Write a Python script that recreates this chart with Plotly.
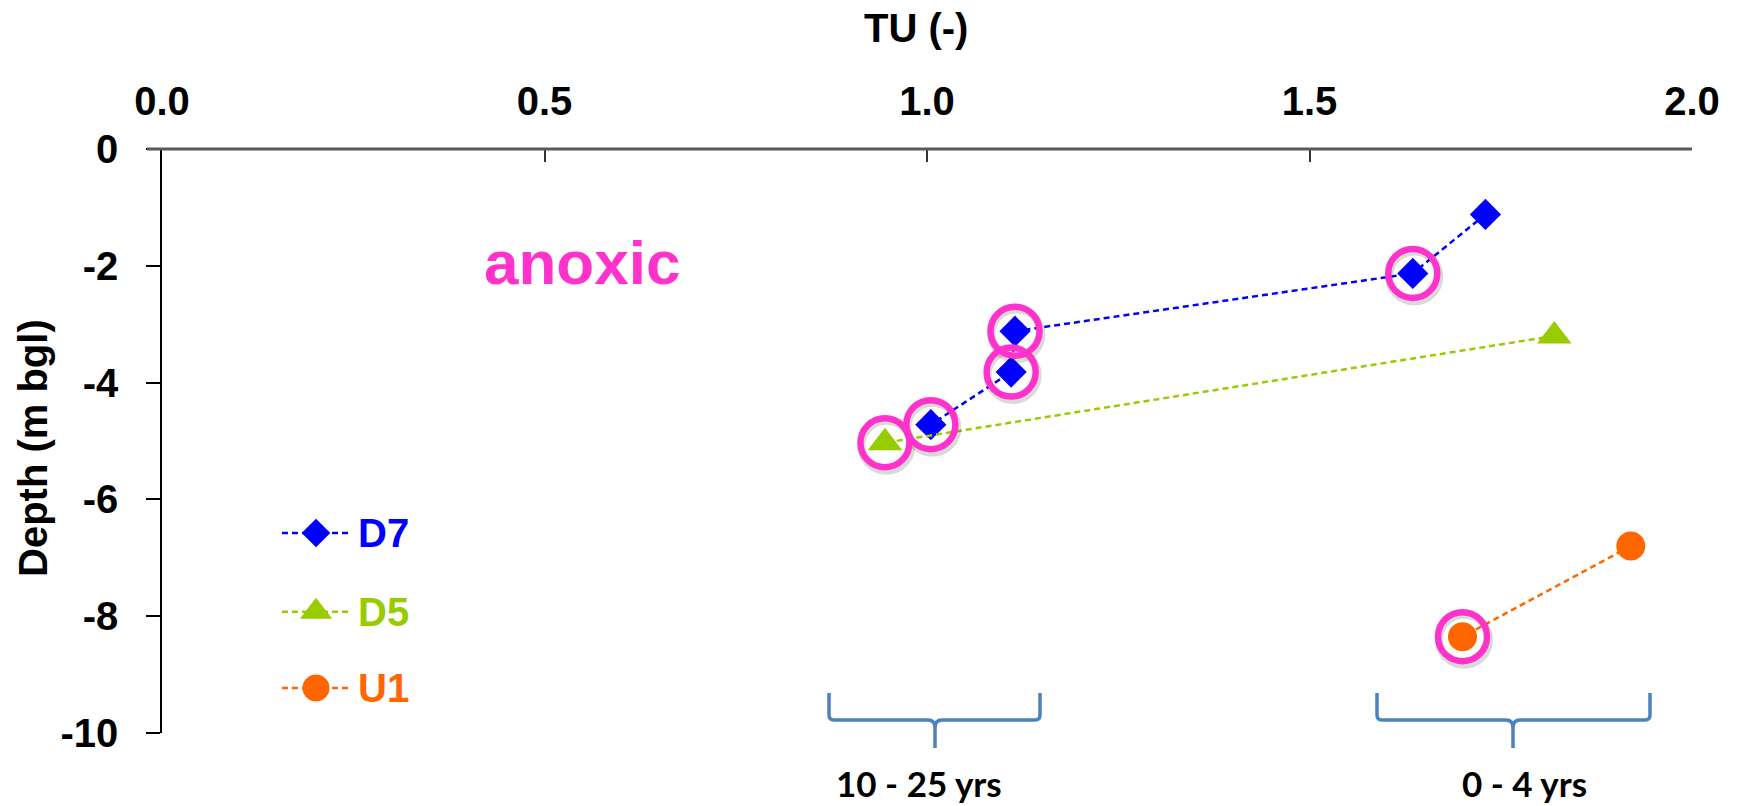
import plotly.graph_objects as go

# ---- data -------------------------------------------------------------
d7_tu = [1.73, 1.635, 1.115, 1.11, 1.005]
d7_depth = [-1.12, -2.13, -3.12, -3.82, -4.72]
d7_flag = [False, True, True, True, True]

d5_tu = [1.82, 0.945]
d5_depth = [-3.2, -5.03]
d5_flag = [False, True]

u1_tu = [1.92, 1.70]
u1_depth = [-6.8, -8.35]
u1_flag = [False, True]

series_names = ["D7", "D5", "U1"]
series_colors = ["#0000FF", "#99CC00", "#FF6600"]
series_symbols = ["diamond", "triangle-up", "circle"]
series_sizes = [24, 30, 29]

x_ticks = [0.0, 0.5, 1.0, 1.5, 2.0]
y_ticks = [0, -2, -4, -6, -8, -10]

age_labels = ["10 - 25 yrs", "0 - 4 yrs"]
note_text = "anoxic"

# ---- page geometry (pixels) -------------------------------------------
W, H = 1739, 806
L, R, T, B = 162, 1692, 149, 733
PINK = "#FF33CC"
BRACE = "#4F81BD"
FONT = "Liberation Sans, Arial, sans-serif"


def px(xp):
    return (xp - L) / (R - L)


def py(yp):
    return (B - yp) / (B - T)


fig = go.Figure()

series = [
    (d7_tu, d7_depth, d7_flag),
    (d5_tu, d5_depth, d5_flag),
    (u1_tu, u1_depth, u1_flag),
]

for (xs, ys, _), name, col, sym, sz in zip(
    series, series_names, series_colors, series_symbols, series_sizes
):
    fig.add_trace(
        go.Scatter(
            x=xs, y=ys, name=name, mode="lines+markers",
            line=dict(color=col, width=2.5, dash="6px,4px"),
            marker=dict(symbol=sym, size=sz, color=col, line=dict(width=0)),
            showlegend=False, cliponaxis=False,
        )
    )

# highlighted samples: soft shadow then pink ring
ring_x, ring_y = [], []
for xs, ys, flags in series:
    for xv, yv, f in zip(xs, ys, flags):
        if f:
            ring_x.append(xv)
            ring_y.append(yv)

dx = 1.5 * 2.0 / (R - L)
dy = -3 * 10.0 / (B - T)
shadow = "rgba(0,0,0,0.15)"
fig.add_trace(
    go.Scatter(
        x=[v + dx for v in ring_x], y=[v + dy for v in ring_y], mode="markers",
        marker=dict(symbol="circle-open", size=50, color=shadow,
                    line=dict(color=shadow, width=8)),
        showlegend=False, hoverinfo="skip", cliponaxis=False,
    )
)
fig.add_trace(
    go.Scatter(
        x=ring_x, y=ring_y, mode="markers",
        marker=dict(symbol="circle-open", size=49, color=PINK,
                    line=dict(color=PINK, width=6.5)),
        showlegend=False, cliponaxis=False,
    )
)

# ---- hand-drawn key on an overlay frame [0,1] x [0,1] ------------------
key_rows = [533, 611.7, 688]
for name, col, sym, sz, yr in zip(
    series_names, series_colors, series_symbols, series_sizes, key_rows
):
    fig.add_trace(
        go.Scatter(
            x=[px(282), px(350)], y=[py(yr), py(yr)], mode="lines",
            line=dict(color=col, width=2.5, dash="6px,4px"),
            xaxis="x2", yaxis="y2", showlegend=False, hoverinfo="skip",
        )
    )
    fig.add_trace(
        go.Scatter(
            x=[px(316)], y=[py(yr)], mode="markers",
            marker=dict(symbol=sym, size=sz - 2, color=col),
            xaxis="x2", yaxis="y2", showlegend=False, hoverinfo="skip",
        )
    )

annotations = []
for name, col, yr in zip(series_names, series_colors, key_rows):
    annotations.append(dict(
        text=name, x=px(356), y=py(yr), xref="paper", yref="paper",
        xanchor="left", yanchor="middle", showarrow=False,
        font=dict(family=FONT, size=40, color=col, weight="bold"),
    ))

# axis titles
annotations.append(dict(
    text="TU (-)", x=px(916), y=py(28), xref="paper", yref="paper",
    xanchor="center", yanchor="middle", showarrow=False,
    font=dict(family=FONT, size=40, color="black", weight="bold"),
))
annotations.append(dict(
    text="Depth (m bgl)", x=px(33), y=py(448), xref="paper", yref="paper",
    xanchor="center", yanchor="middle", showarrow=False, textangle=-90,
    font=dict(family=FONT, size=40, color="black", weight="bold"),
))

# note
annotations.append(dict(
    text=note_text, x=px(482), y=py(262), xref="paper", yref="paper",
    xanchor="left", yanchor="middle", showarrow=False,
    font=dict(family=FONT, size=62, color=PINK, weight="bold"),
))

# ---- age braces below the plot -----------------------------------------
shapes = []
braces = [(829, 935, 1040, 919), (1377, 1513, 1650, 1524)]
y_top, y_mid, y_tip = 693, 720, 748


def brace_path(xl, xc, xr):
    pts = [
        ("M", [(xl, y_top)]),
        ("L", [(xl, y_mid - 5)]),
        ("Q", [(xl, y_mid), (xl + 5, y_mid)]),
        ("L", [(xc - 7, y_mid)]),
        ("Q", [(xc, y_mid), (xc, y_mid + 8)]),
        ("L", [(xc, y_tip)]),
        ("M", [(xc, y_mid + 8)]),
        ("Q", [(xc, y_mid), (xc + 7, y_mid)]),
        ("L", [(xr - 5, y_mid)]),
        ("Q", [(xr, y_mid), (xr, y_mid - 5)]),
        ("L", [(xr, y_top)]),
    ]
    out = []
    for cmd, coords in pts:
        out.append(cmd + " " + " ".join(f"{px(a):.5f},{py(b):.5f}" for a, b in coords))
    return " ".join(out)


for (xl, xc, xr, tx), lab in zip(braces, age_labels):
    shapes.append(dict(
        type="path", path=brace_path(xl, xc, xr), xref="paper", yref="paper",
        line=dict(color=BRACE, width=3.5), layer="above",
    ))
    annotations.append(dict(
        text=lab, x=px(tx), y=py(H), xref="paper", yref="paper",
        xanchor="center", yanchor="bottom", showarrow=False,
        font=dict(family="Lato, sans-serif", size=35, color="black", weight="bold"),
    ))

# top axis line, running slightly past the depth axis
shapes.append(dict(
    type="line", xref="paper", yref="paper", x0=px(147), x1=1, y0=1, y1=1,
    line=dict(color="#595959", width=3), layer="above",
))

fig.update_layout(
    width=W, height=H,
    margin=dict(l=L, r=W - R, t=T, b=H - B, pad=0),
    paper_bgcolor="white", plot_bgcolor="white",
    showlegend=False,
    annotations=annotations,
    shapes=shapes,
    xaxis=dict(
        range=[0, 2], side="top", tickvals=x_ticks,
        ticktext=[f"{v:.1f}" for v in x_ticks],
        ticks="inside", ticklen=13, tickwidth=1.5, tickcolor="#333333",
        showline=False, showgrid=False, zeroline=False,
        tickfont=dict(family=FONT, size=40, color="black", weight="bold"),
        ticklabelstandoff=25,
    ),
    yaxis=dict(
        range=[-10, 0], tickvals=y_ticks, ticktext=[str(v) for v in y_ticks],
        ticks="outside", ticklen=14, tickwidth=1.5, tickcolor="black",
        showline=True, linecolor="black", linewidth=1.5,
        showgrid=False, zeroline=False,
        tickfont=dict(family=FONT, size=40, color="black", weight="bold"),
        ticklabelstandoff=20,
    ),
    xaxis2=dict(range=[0, 1], overlaying="x", visible=False),
    yaxis2=dict(range=[0, 1], overlaying="y", visible=False),
)

fig.write_html("out.html")
